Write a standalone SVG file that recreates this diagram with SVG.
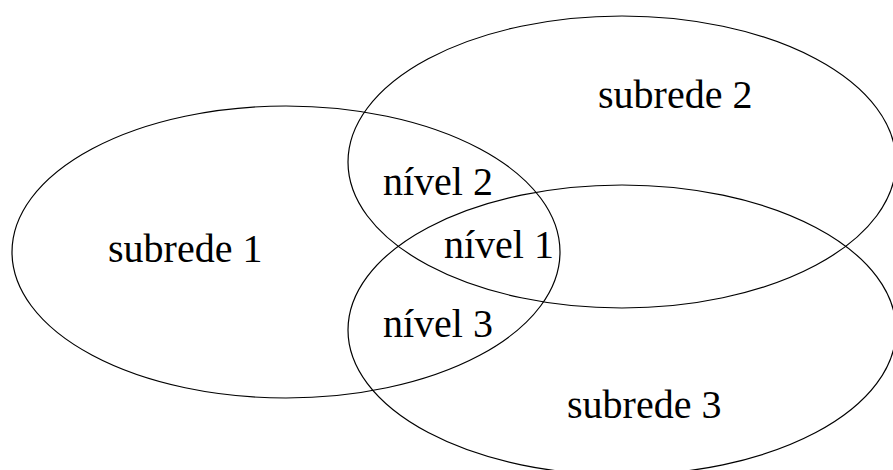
<svg xmlns="http://www.w3.org/2000/svg" width="893" height="470" viewBox="0 0 893 470">
  <style>
    .net { fill: none; stroke: #000; stroke-width: 1.2; }
    text { font-family: 'Liberation Serif', 'Times New Roman', Times, serif; font-size: 40px; fill: #000; }
  </style>
  <rect width="893" height="470" fill="#fff"/>
  <g id="subrede1">
    <ellipse class="net" cx="286" cy="252" rx="274" ry="146"/>
    <text x="108" y="262" font-family="Liberation Serif, serif">subrede 1</text>
  </g>
  <g id="subrede2">
    <ellipse class="net" cx="622" cy="162" rx="274" ry="146"/>
    <text x="598" y="108" font-family="Liberation Serif, serif">subrede 2</text>
  </g>
  <g id="subrede3">
    <ellipse class="net" cx="622" cy="330" rx="274" ry="145"/>
    <text x="567" y="418" font-family="Liberation Serif, serif">subrede 3</text>
  </g>
  <g id="niveis">
    <text x="383" y="195" font-family="Liberation Serif, serif">nível 2</text>
    <text x="444" y="258" font-family="Liberation Serif, serif">nível 1</text>
    <text x="383" y="337" font-family="Liberation Serif, serif">nível 3</text>
  </g>
</svg>
